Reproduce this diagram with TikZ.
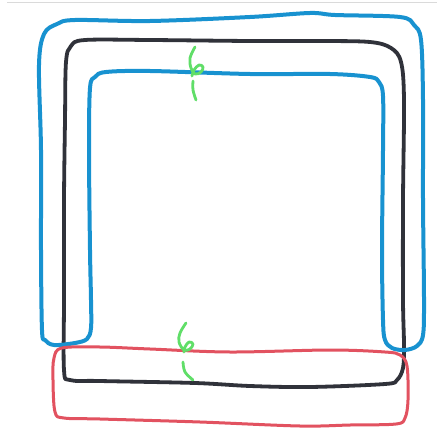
\documentclass[tikz,border=0pt]{standalone}
\definecolor{mblue}{RGB}{24,146,208}
\definecolor{mblack}{RGB}{48,50,58}
\definecolor{mred}{RGB}{226,82,96}
\definecolor{mgreen}{RGB}{96,222,104}
\definecolor{mgray}{RGB}{218,218,218}
\tikzset{
  pen/.style={line width=#1, line cap=round, line join=round},
  bluepen/.style={pen=4pt, draw=mblue},
  blackpen/.style={pen=3.8pt, draw=mblack},
  redpen/.style={pen=3pt, draw=mred},
  greenpen/.style={pen=2.8pt, draw=mgreen},
}
\begin{document}
\begin{tikzpicture}[x=1pt,y=-1pt]
\useasboundingbox[fill=white] (0,0) rectangle (437,441);
% faint scan edge
\draw[mgray, line width=1pt] (7,3) -- (437,3);
% black loop
\draw[blackpen] plot[smooth cycle, tension=0.55] coordinates {
 (64,370) (64,300) (64,200) (65,120) (66,62) (71,46) (85,40) (150,40)
 (250,41) (320,41) (370,42) (391,48) (401,62) (404,100) (403,200)
 (403,300) (404,345) (403,368) (397,380) (385,384) (310,387) (250,386)
 (195,383) (100,381) (70,380)};
% blue tube
\draw[bluepen] plot[smooth cycle, tension=0.55] coordinates {
 (42,330) (41,250) (41,150) (39,65) (44,34) (57,24) (75,20) (150,21)
 (250,17) (310,13) (335,15) (400,17) (414,25) (421,40) (423,100)
 (423,200) (424,300) (423,335) (417,346) (405,350) (392,348) (385,340)
 (383,320) (382,250) (383,150) (383,96) (379,82) (370,77) (330,74)
 (250,74) (150,71) (106,72) (95,77) (90,88) (89,150) (90,250) (91,300)
 (91,328) (87,339) (75,343) (54,345) (45,340)};
% red box
\draw[redpen] plot[smooth cycle, tension=0.55] coordinates {
 (62,348) (100,347) (150,349) (230,352) (330,350) (385,352) (400,355)
 (407,366) (408,400) (405,418) (396,424) (350,425) (300,426) (200,422)
 (100,419) (64,418) (55,412) (53,380) (54,358)};
% green marks
\draw[greenpen] plot[smooth, tension=0.6] coordinates {
 (195,47) (190,58) (191,68) (195,74) (201,72) (203,67) (199,65) (194,70) (192,76)};
\draw[greenpen] plot[smooth, tension=0.6] coordinates {
 (193,81) (193,90) (196,100)};
\draw[greenpen] plot[smooth, tension=0.6] coordinates {
 (186,323) (180,333) (179,342) (184,350) (190,349) (193,344) (189,342) (185,347) (184,352)};
\draw[greenpen] plot[smooth, tension=0.6] coordinates {
 (183,362) (185,372) (193,380)};
\end{tikzpicture}
\end{document}
